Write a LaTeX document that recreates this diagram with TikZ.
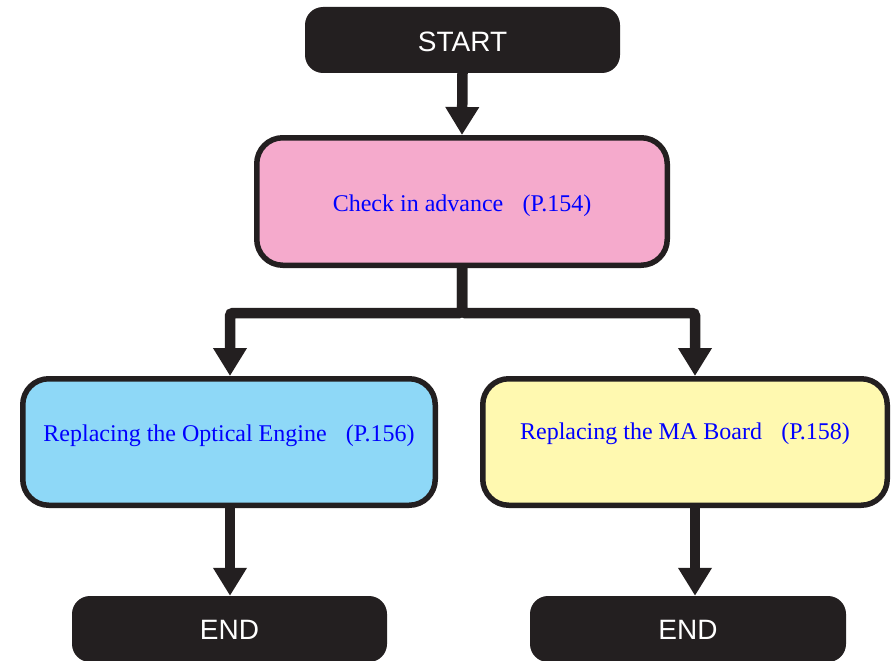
\documentclass[tikz,border=0pt]{standalone}
\usepackage{fontspec}
\setmainfont{Liberation Serif}
\newfontfamily\labelsans{Liberation Sans}
\usetikzlibrary{arrows.meta}
\definecolor{ink}{HTML}{231F20}
\definecolor{pinkfill}{HTML}{F5AACC}
\definecolor{bluefill}{HTML}{8ED8F7}
\definecolor{yellowfill}{HTML}{FFF9B0}
\definecolor{textblue}{HTML}{0000FF}
\newcommand{\placetext}[2]{\raisebox{#1}[0pt][0pt]{#2}}
\tikzset{
  terminal/.style={fill=ink, text=white, rounded corners=18pt, inner sep=0pt,
    font=\labelsans\fontsize{28}{30}\selectfont},
  procbox/.style={draw=ink, line width=5.5pt, rounded corners=26pt, inner sep=0pt,
    text=textblue, font=\fontsize{24}{26}\selectfont},
  flow/.style={draw=ink, line width=10.5pt,
    -{Triangle[width=32pt,length=28pt]}},
}
\begin{document}
\begin{tikzpicture}[x=1pt,y=-1pt]
\useasboundingbox (0,0) rectangle (892,661);
\node[terminal, minimum width=315pt, minimum height=66pt] (start) at (462.5,40) {\placetext{-12pt}{START}};
\node[procbox, fill=pinkfill, minimum width=410.5pt, minimum height=127.5pt] (check) at (462,201.5)
  {\placetext{-9.5pt}{Check in advance\hspace{0.8em}(P.154)}};
\node[procbox, fill=bluefill, minimum width=412.5pt, minimum height=126.5pt] (optical) at (229,442)
  {\placetext{1pt}{Replacing the Optical Engine\hspace{0.8em}(P.156)}};
\node[procbox, fill=yellowfill, minimum width=404.5pt, minimum height=126.5pt] (maboard) at (685,442)
  {\placetext{3pt}{Replacing the MA Board\hspace{0.8em}(P.158)}};
\node[terminal, minimum width=315pt, minimum height=66pt] (endl) at (229.5,629) {\placetext{-10pt}{END}};
\node[terminal, minimum width=316pt, minimum height=66pt] (endr) at (688,629) {\placetext{-10pt}{END}};
\coordinate (split) at (462,313);
\coordinate (lx) at (230,0);
\coordinate (rx) at (695,0);
\draw[flow] (start.south) -- (check.north);
\draw[flow, rounded corners=3pt] (check.south) -- (split) -| (lx |- optical.north);
\draw[flow, rounded corners=3pt] (check.south) -- (split) -| (rx |- maboard.north);
\draw[flow] (lx |- optical.south) -- (lx |- endl.north);
\draw[flow] (rx |- maboard.south) -- (rx |- endr.north);
\end{tikzpicture}
\end{document}
